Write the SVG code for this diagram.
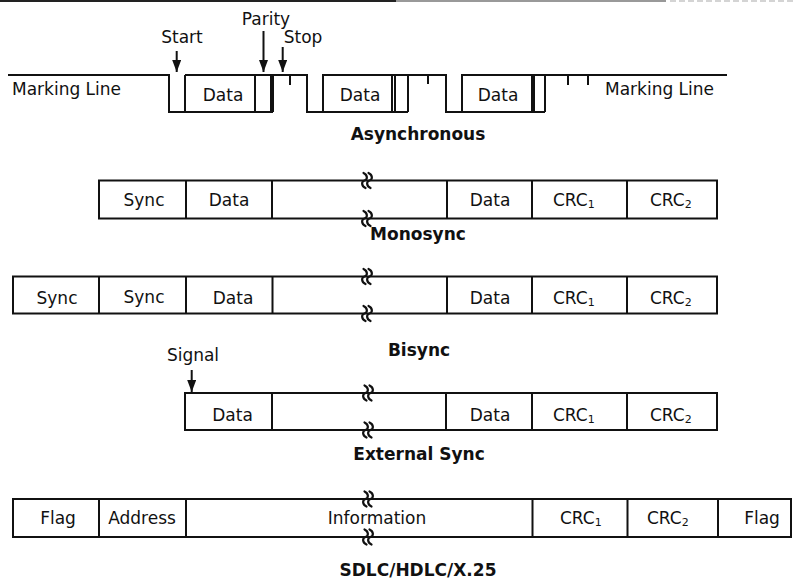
<svg xmlns="http://www.w3.org/2000/svg" width="796" height="579" viewBox="0 0 796 579">
<defs>
<style>
.ln{fill:none;stroke:#111;stroke-width:2}
.box{fill:#fff;stroke:#111;stroke-width:2}
.t{font-family:"DejaVu Sans","Liberation Sans",sans-serif;font-size:17px;fill:#111}
.m{text-anchor:middle}
.cap{font-family:"DejaVu Sans","Liberation Sans",sans-serif;font-size:17px;font-weight:bold;fill:#111;text-anchor:middle}
.sub{font-size:11px}
.brk{fill:none;stroke:#111;stroke-width:2.2;stroke-linecap:round}
.arr{fill:none;stroke:#111;stroke-width:2}
</style>
<marker id="ah" viewBox="0 0 12 9" refX="12" refY="4.5" markerWidth="12" markerHeight="9" markerUnits="userSpaceOnUse" orient="auto">
<path d="M0,0 L12,4.5 L0,9 z" fill="#111"/>
</marker>
<g id="brk">
<path class="brk" d="M -3.5,-7.5 C 0.8,-5.5 0.8,-1 -2.5,0 C -5.8,1 -5.8,5.5 -1.5,7.5"/>
<path class="brk" d="M 1.5,-7.5 C 5.8,-5.5 5.8,-1 2.5,0 C -0.8,1 -0.8,5.5 3.5,7.5"/>
</g>
</defs>
<rect width="796" height="579" fill="#fff"/>

<!-- scan border at top -->
<line x1="0" y1="1" x2="396" y2="1" stroke="#222" stroke-width="2"/>
<line x1="396" y1="1" x2="666" y2="1" stroke="#777" stroke-width="1.5"/>
<line x1="670" y1="1" x2="796" y2="1" stroke="#aaa" stroke-width="1.2" stroke-dasharray="6 3"/>

<!-- Asynchronous waveform -->
<g id="async">
<path class="ln" d="M8,75 H169 V112 H273 M185,75 V112 M185,75 H307 V112 H408 M255,75 V112 M271,75 V112 M273,75 V112 M290,75 V85"/>
<path class="ln" d="M323,112 V75 H446 V112 H545 M392,75 V112 M395,75 V112 M408,75 V112 M428,75 V84"/>
<path class="ln" d="M462,112 V75 H727 M532,75 V112 M534,75 V112 M545,75 V112 M568,75 V85 M588,75 V85"/>
<text class="t" x="12" y="95">Marking Line</text>
<text class="t" x="605" y="95">Marking Line</text>
<text class="t m" x="223" y="101">Data</text>
<text class="t m" x="360" y="101">Data</text>
<text class="t m" x="498" y="101">Data</text>
<text class="t m" x="182" y="43">Start</text>
<text class="t m" x="266" y="25">Parity</text>
<text class="t m" x="303" y="43">Stop</text>
<text class="cap" x="418" y="140">Asynchronous</text>
</g>

<!-- Monosync -->
<g id="monosync">
<rect class="box" x="99" y="180.5" width="618" height="38"/>
<path class="ln" d="M186,180.5 V218.5 M272,180.5 V218.5 M447,180.5 V218.5 M532,180.5 V218.5 M627,180.5 V218.5"/>
<use href="#brk" x="367" y="180.5"/>
<use href="#brk" x="367" y="218.5"/>
<text class="t m" x="144" y="205.5">Sync</text>
<text class="t m" x="229" y="205.5">Data</text>
<text class="t m" x="490" y="205.5">Data</text>
<text class="t" x="553" y="205.5">CRC<tspan class="sub" dy="2">1</tspan></text>
<text class="t" x="650" y="205.5">CRC<tspan class="sub" dy="2">2</tspan></text>
<text class="cap" x="418" y="240">Monosync</text>
</g>

<!-- Bisync -->
<g id="bisync">
<rect class="box" x="13" y="276.5" width="704" height="37"/>
<path class="ln" d="M99,276.5 V313.5 M186,276.5 V313.5 M272.5,276.5 V313.5 M447,276.5 V313.5 M532,276.5 V313.5 M627,276.5 V313.5"/>
<use href="#brk" x="367" y="276.5"/>
<use href="#brk" x="367" y="313.5"/>
<text class="t m" x="57" y="304">Sync</text>
<text class="t m" x="144" y="303">Sync</text>
<text class="t m" x="233" y="304">Data</text>
<text class="t m" x="490" y="304">Data</text>
<text class="t" x="553" y="304">CRC<tspan class="sub" dy="2">1</tspan></text>
<text class="t" x="650" y="304">CRC<tspan class="sub" dy="2">2</tspan></text>
<text class="cap" x="419" y="356">Bisync</text>
</g>

<!-- External Sync -->
<g id="external-sync">
<rect class="box" x="185" y="393" width="532" height="37"/>
<path class="ln" d="M272,393 V430 M446,393 V430 M532,393 V430 M627,393 V430"/>
<use href="#brk" x="368" y="393"/>
<use href="#brk" x="368" y="430"/>
<text class="t m" x="232.5" y="421">Data</text>
<text class="t m" x="490" y="421">Data</text>
<text class="t" x="553" y="421">CRC<tspan class="sub" dy="2">1</tspan></text>
<text class="t" x="650" y="421">CRC<tspan class="sub" dy="2">2</tspan></text>
<text class="t m" x="193" y="361">Signal</text>
<text class="cap" x="419" y="460">External Sync</text>
</g>

<!-- SDLC/HDLC/X.25 -->
<g id="sdlc">
<rect class="box" x="13" y="499" width="778" height="38"/>
<path class="ln" d="M99,499 V537 M186,499 V537 M532.5,499 V537 M627.5,499 V537 M718,499 V537"/>
<use href="#brk" x="368" y="499"/>
<use href="#brk" x="368" y="537"/>
<text class="t m" x="58" y="524">Flag</text>
<text class="t m" x="142" y="524">Address</text>
<text class="t m" x="377" y="524">Information</text>
<text class="t" x="560" y="524">CRC<tspan class="sub" dy="2">1</tspan></text>
<text class="t" x="647" y="524">CRC<tspan class="sub" dy="2">2</tspan></text>
<text class="t m" x="762" y="524">Flag</text>
<text class="cap" x="418" y="576">SDLC/HDLC/X.25</text>
</g>

<!-- connectors: pointer arrows -->
<g id="connectors">
<line class="arr" x1="176.7" y1="51" x2="176.7" y2="72" marker-end="url(#ah)"/>
<line class="arr" x1="263.5" y1="31" x2="263.5" y2="72" marker-end="url(#ah)"/>
<line class="arr" x1="282.7" y1="47" x2="282.7" y2="72" marker-end="url(#ah)"/>
<line class="arr" x1="191.7" y1="370" x2="191.7" y2="392" marker-end="url(#ah)"/>
</g>
</svg>
